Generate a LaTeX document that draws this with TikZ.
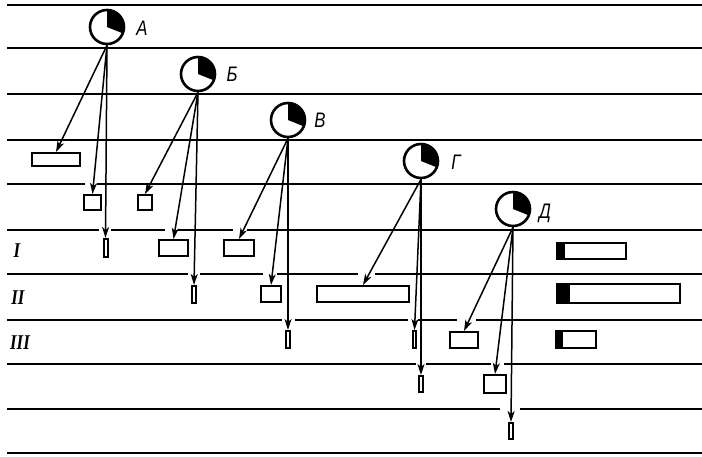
\documentclass[tikz,border=0pt]{standalone}
\usepackage{fontspec}
\setmainfont{Liberation Serif}
\newfontfamily\labfont{Liberation Sans}
\usetikzlibrary{arrows.meta}

\tikzset{
  rule/.style={line width=2.2pt},
  gapmask/.style={fill=white},
  pie/.style={circle, draw, line width=2.6pt, minimum size=34pt, inner sep=0pt, fill=white,
    path picture={\fill[black] (path picture bounding box.center) -- ++(0pt,20pt) -- ++(20pt,0pt) -- ++(0pt,-28pt) -- cycle;}},
  box/.style={draw, line width=2pt, inner sep=0pt, fill=white},
  bar/.style={box, path picture={\fill[black] (path picture bounding box.north west) rectangle ([xshift=#1]path picture bounding box.south west);}},
  arr/.style={line width=1.5pt, -{Stealth[length=11pt,width=7pt,inset=3pt]}},
  lab/.style={font=\labfont\itshape\fontsize{21}{21}\selectfont, inner sep=0pt},
  rom/.style={font=\bfseries\itshape\fontsize{21}{21}\selectfont, inner sep=0pt}
}

\begin{document}
\begin{tikzpicture}[x=1pt,y=-1pt]
\useasboundingbox (0,0) rectangle (702,456);

% ruled lines
\foreach \yy in {5,48,94,140,184,230,274,320,364,409}
  \draw[rule] (7,\yy) -- (702,\yy);
\draw[line width=2.8pt] (7,453) -- (702,453);

% breaks in the rules where the arrowheads pass
\foreach \xa/\xb/\yy in {85/97/184, 99/111/230, 165/178/230, 233/247/230,
    188/200/274, 263/277/274, 358/375/274,
    282/295/320, 408/418/320, 457/476/320,
    416/426/364, 491/504/364, 500/520/409}
  \fill[gapmask] (\xa,\yy-2.5) rectangle (\xb,\yy+2.5);

% row labels
\node[rom] (r1l) at (17,251) {\scalebox{0.8}[1]{I}};
\node[rom] (r2l) at (18,298) {\scalebox{0.8}[1]{II}};
\node[rom] (r3l) at (20,343) {\scalebox{0.8}[1]{III}};

% sources
\node[pie] (A) at (107,27) {};
\node[pie] (B) at (198,74) {};
\node[pie] (C) at (288,120) {};
\node[pie] (D) at (421,161) {};
\node[pie] (E) at (513,209) {};
\node[lab] (lA) at (142,28) {\scalebox{0.8}[1]{А}};
\node[lab] (lB) at (232,74) {\scalebox{0.8}[1]{Б}};
\node[lab] (lC) at (320,120) {\scalebox{0.8}[1]{В}};
\node[lab] (lD) at (456,162) {\scalebox{0.8}[1]{Г}};
\node[lab] (lE) at (545,213) {\scalebox{0.8}[1]{Д}};

% targets of А
\node[box, minimum width=48pt, minimum height=13pt] (a1) at (56,159.5) {};
\node[box, minimum width=17pt, minimum height=15pt] (a2) at (92.5,202.5) {};
\node[box, minimum width=4pt, minimum height=18pt] (a3) at (105.5,248) {};
% targets of Б
\node[box, minimum width=14pt, minimum height=15pt] (b1) at (145,202.5) {};
\node[box, minimum width=29pt, minimum height=16pt] (b2) at (173.5,248) {};
\node[box, minimum width=4pt, minimum height=17pt] (b3) at (194,294.5) {};
% targets of В
\node[box, minimum width=30pt, minimum height=16pt] (c1) at (239,248) {};
\node[box, minimum width=20pt, minimum height=16pt] (c2) at (271,294) {};
\node[box, minimum width=4pt, minimum height=17pt] (c3) at (288,339.5) {};
% targets of Г
\node[box, minimum width=92pt, minimum height=16pt] (d1) at (363,294) {};
\node[box, minimum width=3.6pt, minimum height=17pt] (d2) at (414.5,339.5) {};
\node[box, minimum width=4pt, minimum height=16pt] (d3) at (421,384) {};
% targets of Д
\node[box, minimum width=28pt, minimum height=16pt] (e1) at (464,340) {};
\node[box, minimum width=22pt, minimum height=18pt] (e2) at (495,384) {};
\node[box, minimum width=4pt, minimum height=16pt] (e3) at (511,431) {};

% summary bars
\node[bar=8pt, minimum width=69pt, minimum height=16pt] (s1) at (591.5,251) {};
\node[bar=13pt, minimum width=123pt, minimum height=19pt] (s2) at (618.5,293.5) {};
\node[bar=7pt, minimum width=40pt, minimum height=17pt] (s3) at (576,339.5) {};

% connectors
\draw[arr] (A.south) -- (a1.north);
\draw[arr] (A.south) -- (a2.north);
\draw[arr] (A.south) -- (a3.north);
\draw[arr] (B.south) -- (b1.north);
\draw[arr] (B.south) -- (b2.north);
\draw[arr] (B.south) -- (b3.north);
\draw[arr] (C.south) -- (c1.north);
\draw[arr] (C.south) -- (c2.north);
\draw[arr] (C.south) -- (c3.north);
\draw[arr] (D.south) -- (d1.north);
\draw[arr] (D.south) -- (d2.north);
\draw[arr] (D.south) -- (d3.north);
\draw[arr] (E.south) -- (e1.north);
\draw[arr] (E.south) -- (e2.north);
\draw[arr] (E.south) -- (e3.north);
\end{tikzpicture}
\end{document}
